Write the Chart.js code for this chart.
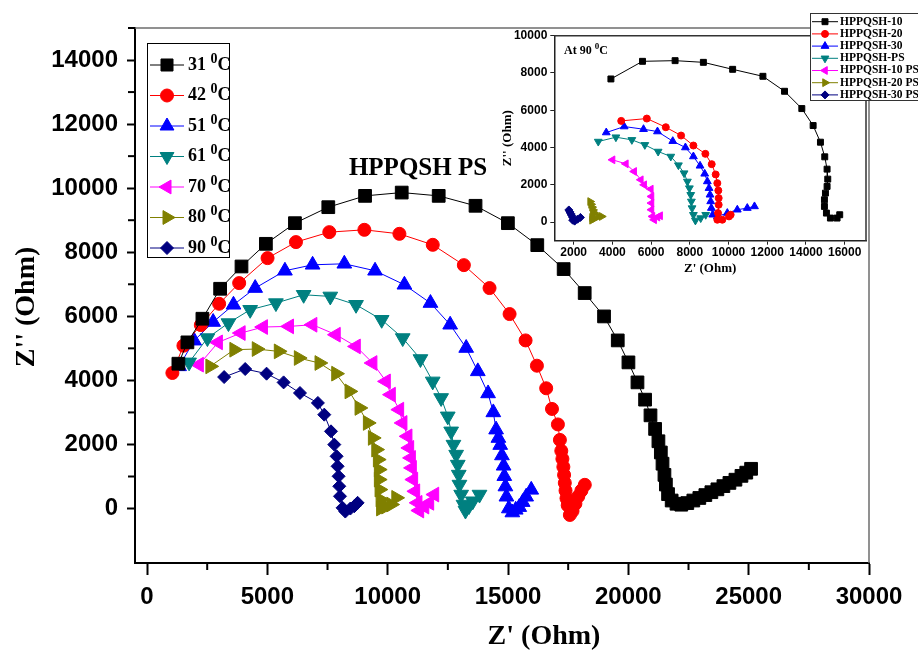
<!DOCTYPE html>
<html>
<head>
<meta charset="utf-8">
<script src="https://cdn.jsdelivr.net/npm/chart.js@4.4.1/dist/chart.umd.min.js"></script>
<style>
  body { margin: 0; background: #fff; }
  #wrap { position: relative; width: 918px; height: 654px; }
  canvas { position: absolute; }
</style>
</head>
<body>
<div id="wrap">
  <canvas id="main" width="918" height="654" style="left:0;top:0"></canvas>
  <canvas id="inset" width="423" height="272" style="left:495px;top:10px"></canvas>
</div>
<script>
// ---- main plot: HPPQSH PS at different temperatures, [Z', Z''] in Ohm
const temps = ['31', '42', '51', '61', '70', '80', '90'];

const t31 = [[1303,4521],[1678,5187],[2301,5925],[3038,6860],[3925,7556],[4939,8263],[6146,8908],[7532,9407],[9060,9760],[10583,9863],[12120,9760],[13650,9450],[14995,8908],[16216,8222],[17312,7474],[18186,6726],[18990,5997],[19560,5248],[20004,4562],[20379,3938],[20696,3399],[20920,2909],[21112,2485],[21250,2100],[21350,1750],[21420,1400],[21500,1050],[21560,750],[21650,450],[21800,250],[22000,150],[22200,120],[22450,170],[22700,250],[22950,330],[23200,420],[23450,510],[23700,600],[23950,700],[24200,800],[24450,900],[24700,1020],[24900,1120],[25100,1240]];
const t42 = [[1054,4231],[1512,5083],[2235,5727],[2996,6392],[3829,7037],[5008,7817],[6188,8317],[7574,8628],[9031,8700],[10487,8575],[11873,8232],[13165,7598],[14232,6882],[15065,6071],[15730,5248],[16201,4459],[16586,3754],[16827,3109],[17073,2625],[17156,2142],[17214,1800],[17260,1550],[17300,1300],[17330,1050],[17360,800],[17390,560],[17430,320],[17480,100],[17570,-200],[17680,-80],[17800,150],[17920,380],[18050,560],[18190,740]];
const t51 = [[1332,4438],[1956,5239],[2747,5822],[3592,6360],[4494,6882],[5730,7422],[6880,7608],[8198,7640],[9475,7422],[10695,6985],[11777,6414],[12596,5737],[13262,5010],[13745,4282],[14172,3592],[14389,3000],[14505,2463],[14600,2200],[14676,1980],[14747,1656],[14817,1334],[14846,1010],[14892,686],[14934,368],[15034,0],[15180,-125],[15320,-40],[15467,44],[15610,200],[15754,368],[15966,583]];
const t61 = [[1748,4563],[2509,5321],[3383,5790],[4286,6205],[5356,6413],[6508,6673],[7615,6621],[8685,6361],[9750,5893],[10625,5322],[11361,4668],[11871,3969],[12221,3452],[12496,2878],[12637,2410],[12733,1996],[12845,1684],[12912,1372],[12953,1060],[12982,748],[13053,437],[13149,125],[13232,-62],[13380,80],[13536,228],[13815,437]];
const t70 = [[2164,4490],[2955,5187],[3899,5478],[4827,5666],[5909,5686],[6880,5737],[7851,5426],[8685,5060],[9375,4543],[9932,3969],[10140,3555],[10486,3087],[10623,2672],[10831,2254],[10902,1893],[10973,1581],[11014,1269],[11068,904],[11152,539],[11247,178],[11318,-62],[11530,60],[11734,178],[11942,437]];
const t80 = [[2622,4438],[3620,4958],[4550,4979],[5466,4906],[6298,4699],[7158,4543],[7851,4210],[8405,3657],[8821,3140],[9167,2672],[9375,2204],[9516,1840],[9583,1528],[9624,1216],[9624,904],[9653,592],[9695,281],[9716,0],[9930,60],[10140,125],[10348,334]];
const t90 = [[3204,4105],[4078,4355],[4967,4210],[5675,3938],[6355,3607],[7100,3296],[7365,2931],[7644,2410],[7781,1996],[7877,1631],[7919,1319],[7960,1007],[7989,695],[8018,384],[8126,22],[8239,-94],[8450,0],[8613,72],[8750,178]];

const mainXTicks = [0, 5000, 10000, 15000, 20000, 25000, 30000];
const mainXMinor = [2500, 7500, 12500, 17500, 22500, 27500];
const mainYTicks = [0, 2000, 4000, 6000, 8000, 10000, 12000, 14000];
const mainYMinor = [1000, 3000, 5000, 7000, 9000, 11000, 13000, 15000];

// ---- inset: all samples at 90 oC
const samples = ['HPPQSH-10', 'HPPQSH-20', 'HPPQSH-30', 'HPPQSH-PS', 'HPPQSH-10 PS', 'HPPQSH-20 PS', 'HPPQSH-30 PS'];

const s10 = [[3924,7679],[5556,8625],[7240,8661],[8700,8571],[10212,8196],[11775,7821],[12892,7018],[13785,6089],[14369,5179],[14747,4286],[14970,3500],[15090,2839],[15125,2304],[15090,1911],[15005,1554],[14953,1196],[14953,839],[15056,482],[15262,214],[15606,214],[15743,393]];
const s20 = [[4457,5429],[5779,5554],[6759,5089],[7549,4643],[8185,4107],[8803,3661],[9130,3107],[9336,2554],[9421,2089],[9473,1696],[9490,1286],[9490,929],[9456,482],[9421,125],[9679,125],[10023,304],[10109,393]];
const s30 = [[3684,4804],[4611,5125],[5608,4982],[6329,4857],[7119,4339],[7772,4000],[8185,3518],[8528,3018],[8769,2589],[8906,2179],[8992,1821],[9044,1464],[9078,1107],[9112,750],[9181,393],[9421,304],[9937,482],[10453,661],[10968,750],[11340,839]];
const sPS = [[3271,4321],[4182,4554],[5006,4411],[5676,4143],[6363,3786],[7016,3518],[7411,3054],[7703,2625],[7875,2179],[7978,1821],[8047,1464],[8081,1107],[8116,750],[8185,393],[8288,89],[8563,214],[8820,393]];
const s10PS = [[4010,3339],[4697,3125],[5126,2714],[5470,2268],[5642,2000],[5986,1768],[6020,1375],[6020,1018],[6020,661],[6072,304],[6157,125],[6329,268],[6466,339]];
const s20PS = [[2850,1100],[2900,950],[2950,800],[3000,650],[3050,500],[3000,400],[2950,250],[2950,100],[3100,200],[3300,300],[3450,300]];
const s30PS = [[1750,650],[1800,550],[1850,450],[1900,350],[1950,250],[1950,100],[2050,50],[2200,150],[2350,250]];

const insetXTicks = [2000, 4000, 6000, 8000, 10000, 12000, 14000, 16000];
const insetYTicks = [0, 2000, 4000, 6000, 8000, 10000];

const colors = ['#000000', '#ff0000', '#0000ff', '#008080', '#ff00ff', '#808000', '#000080'];
const shapes = [['rect', 0], ['circle', 0], ['triangle', 0], ['triangle', 180], ['triangle', -90], ['triangle', 90], ['rectRot', 0]];
const mainRadius = [9, 6.5, 8.5, 8.5, 8.5, 8.5, 6.5];
const insetRadius = [4.2, 3.5, 4.5, 4.5, 4.5, 4.5, 4];

const serif = '"Liberation Serif", "Times New Roman", serif';
const sans = '"Liberation Sans", Arial, sans-serif';

function makeDatasets(series, names, radius) {
  return series.map((pts, i) => ({
    label: names[i],
    data: pts.map(p => ({ x: p[0], y: p[1] })),
    showLine: true,
    borderColor: colors[i],
    backgroundColor: colors[i],
    borderWidth: 1,
    pointStyle: shapes[i][0],
    rotation: shapes[i][1],
    pointRadius: radius[i],
    pointBorderWidth: 1,
    pointBorderColor: colors[i],
    pointBackgroundColor: colors[i]
  }));
}

// text with a raised "0" before the C, as in the figure
function degText(ctx, x, y, before, size, supSize, rise) {
  ctx.font = 'bold ' + size + 'px ' + serif;
  ctx.fillText(before, x, y);
  x += ctx.measureText(before).width;
  ctx.font = 'bold ' + supSize + 'px ' + serif;
  ctx.fillText('0', x, y - rise);
  x += ctx.measureText('0').width;
  ctx.font = 'bold ' + size + 'px ' + serif;
  ctx.fillText('C', x, y);
}

function drawLegend(chart, box, rowY, rowGap, lineX, textX, radius, textFn) {
  const ctx = chart.ctx;
  ctx.save();
  ctx.fillStyle = '#fff';
  ctx.fillRect(box[0], box[1], box[2], box[3]);
  ctx.strokeStyle = box[4];
  ctx.lineWidth = 1;
  ctx.strokeRect(box[0] + 0.5, box[1] + 0.5, box[2], box[3]);
  chart.data.datasets.forEach((ds, i) => {
    const y = rowY + i * rowGap;
    ctx.strokeStyle = ds.borderColor;
    ctx.lineWidth = 1;
    ctx.beginPath();
    ctx.moveTo(lineX[0], y);
    ctx.lineTo(lineX[1], y);
    ctx.stroke();
    ctx.fillStyle = ds.backgroundColor;
    Chart.helpers.drawPoint(ctx, { pointStyle: ds.pointStyle, rotation: ds.rotation, radius: radius[i], borderWidth: 1 }, (lineX[0] + lineX[1]) / 2, y);
    ctx.fillStyle = '#000';
    ctx.textBaseline = 'middle';
    ctx.textAlign = 'left';
    textFn(ctx, ds.label, textX, y);
  });
  ctx.restore();
}

function minorTicks(ctx, scale, values, len, horizontal) {
  ctx.save();
  ctx.strokeStyle = '#000';
  ctx.lineWidth = 2;
  values.forEach(v => {
    const p = scale.getPixelForValue(v);
    ctx.beginPath();
    if (horizontal) {
      ctx.moveTo(p, scale.top);
      ctx.lineTo(p, scale.top + len);
    } else {
      ctx.moveTo(scale.right, p);
      ctx.lineTo(scale.right - len, p);
    }
    ctx.stroke();
  });
  ctx.restore();
}

const mainDecor = {
  id: 'mainDecor',
  beforeDraw(chart) {
    const ctx = chart.ctx;
    ctx.save();
    ctx.fillStyle = '#fff';
    ctx.fillRect(0, 0, chart.width, chart.height);
    ctx.restore();
  },
  afterDraw(chart) {
    const ctx = chart.ctx;
    const a = chart.chartArea;
    ctx.save();
    ctx.strokeStyle = '#6e6e6e';
    ctx.lineWidth = 1.5;
    ctx.beginPath();
    ctx.moveTo(a.left, a.top);
    ctx.lineTo(a.right, a.top);
    ctx.lineTo(a.right, a.bottom);
    ctx.stroke();
    ctx.restore();
    minorTicks(ctx, chart.scales.x, mainXMinor, 7, true);
    minorTicks(ctx, chart.scales.y, mainYMinor, 7, false);

    ctx.save();
    ctx.fillStyle = '#000';
    ctx.textAlign = 'center';
    ctx.textBaseline = 'middle';
    ctx.font = 'bold 25px ' + serif;
    ctx.fillText('HPPQSH PS', 418, 169);
    ctx.font = 'bold 28px ' + serif;
    ctx.fillText("Z' (Ohm)", 544, 637);
    ctx.translate(27, 307);
    ctx.rotate(-Math.PI / 2);
    ctx.fillText("Z'' (Ohm)", 0, 0);
    ctx.restore();

    drawLegend(chart, [147, 43, 82, 214, '#000'], 65, 30.5, [150, 184], 188, [8.5, 6.5, 8, 8, 8, 8, 6.5],
      (c, label, x, y) => degText(c, x, y, label + ' ', 18, 14, 6));
  }
};

const insetDecor = {
  id: 'insetDecor',
  afterDraw(chart) {
    const ctx = chart.ctx;
    const a = chart.chartArea;
    ctx.save();
    ctx.strokeStyle = '#333';
    ctx.lineWidth = 1.5;
    ctx.beginPath();
    ctx.moveTo(a.left, a.top);
    ctx.lineTo(a.right, a.top);
    ctx.lineTo(a.right, a.bottom);
    ctx.stroke();
    ctx.fillStyle = '#000';
    ctx.textBaseline = 'middle';
    degText(ctx, 69, 41, 'At 90 ', 12, 9, 4);
    ctx.restore();

    drawLegend(chart, [315, 3, 120, 87, '#333'], 11.7, 12.2, [317, 343], 345, insetRadius,
      (c, label, x, y) => { c.font = 'bold 11.5px ' + serif; c.fillText(label, x, y); });
  }
};

function axis(opts) {
  return Object.assign({
    type: 'linear',
    border: { display: true, color: '#000', width: 2 },
    title: { display: false }
  }, opts);
}

new Chart(document.getElementById('main'), {
  type: 'scatter',
  data: { datasets: makeDatasets([t31, t42, t51, t61, t70, t80, t90], temps, mainRadius) },
  options: {
    responsive: false,
    animation: false,
    devicePixelRatio: 1,
    layout: { padding: { top: 28, right: 49, left: 0, bottom: 0 } },
    plugins: { legend: { display: false }, tooltip: { enabled: false } },
    scales: {
      x: axis({
        min: -500, max: 30000,
        afterBuildTicks: s => { s.ticks = mainXTicks.map(v => ({ value: v })); },
        afterFit: s => { s.height = 91; },
        grid: { display: true, drawOnChartArea: false, tickLength: 12, tickColor: '#000', tickWidth: 2 },
        ticks: { autoSkip: false, maxRotation: 0, padding: 8, color: '#000',
          font: { family: sans, size: 24, weight: 'bold' }, callback: v => String(v) }
      }),
      y: axis({
        min: -1700, max: 15000,
        afterBuildTicks: s => { s.ticks = mainYTicks.map(v => ({ value: v })); },
        afterFit: s => { s.width = 135; },
        grid: { display: true, drawOnChartArea: false, tickLength: 8, tickColor: '#000', tickWidth: 2 },
        ticks: { autoSkip: false, padding: 9, color: '#000',
          font: { family: sans, size: 24, weight: 'bold' }, callback: v => String(v) }
      })
    }
  },
  plugins: [mainDecor]
});

new Chart(document.getElementById('inset'), {
  type: 'scatter',
  data: { datasets: makeDatasets([s10, s20, s30, sPS, s10PS, s20PS, s30PS], samples, insetRadius) },
  options: {
    responsive: false,
    animation: false,
    devicePixelRatio: 1,
    layout: { padding: { top: 25.7, right: 52, left: 0, bottom: 0 } },
    plugins: { legend: { display: false }, tooltip: { enabled: false } },
    scales: {
      x: axis({
        min: 1000, max: 17100,
        border: { display: true, color: '#222', width: 1.5 },
        afterBuildTicks: s => { s.ticks = insetXTicks.map(v => ({ value: v })); },
        afterFit: s => { s.height = 41.3; },
        grid: { display: true, drawOnChartArea: false, tickLength: 4, tickColor: '#222', tickWidth: 1 },
        ticks: { autoSkip: false, maxRotation: 0, padding: 1, color: '#000',
          font: { family: sans, size: 12, weight: 'bold' }, callback: v => String(v) },
        title: { display: true, text: "Z' (Ohm)", color: '#000', padding: { top: 0, bottom: 5.7 },
          font: { family: serif, size: 13, weight: 'bold' } }
      }),
      y: axis({
        min: -1000, max: 10000,
        border: { display: true, color: '#222', width: 1.5 },
        afterBuildTicks: s => { s.ticks = insetYTicks.map(v => ({ value: v })); },
        afterFit: s => { s.width = 59.3; },
        grid: { display: true, drawOnChartArea: false, tickLength: 4, tickColor: '#222', tickWidth: 1 },
        ticks: { autoSkip: false, padding: 3, color: '#000',
          font: { family: sans, size: 12, weight: 'bold' }, callback: v => String(v) },
        title: { display: true, text: "Z'' (Ohm)", color: '#000', padding: { top: 4.6, bottom: 0 },
          font: { family: serif, size: 13, weight: 'bold' } }
      })
    }
  },
  plugins: [insetDecor]
});
</script>
</body>
</html>
